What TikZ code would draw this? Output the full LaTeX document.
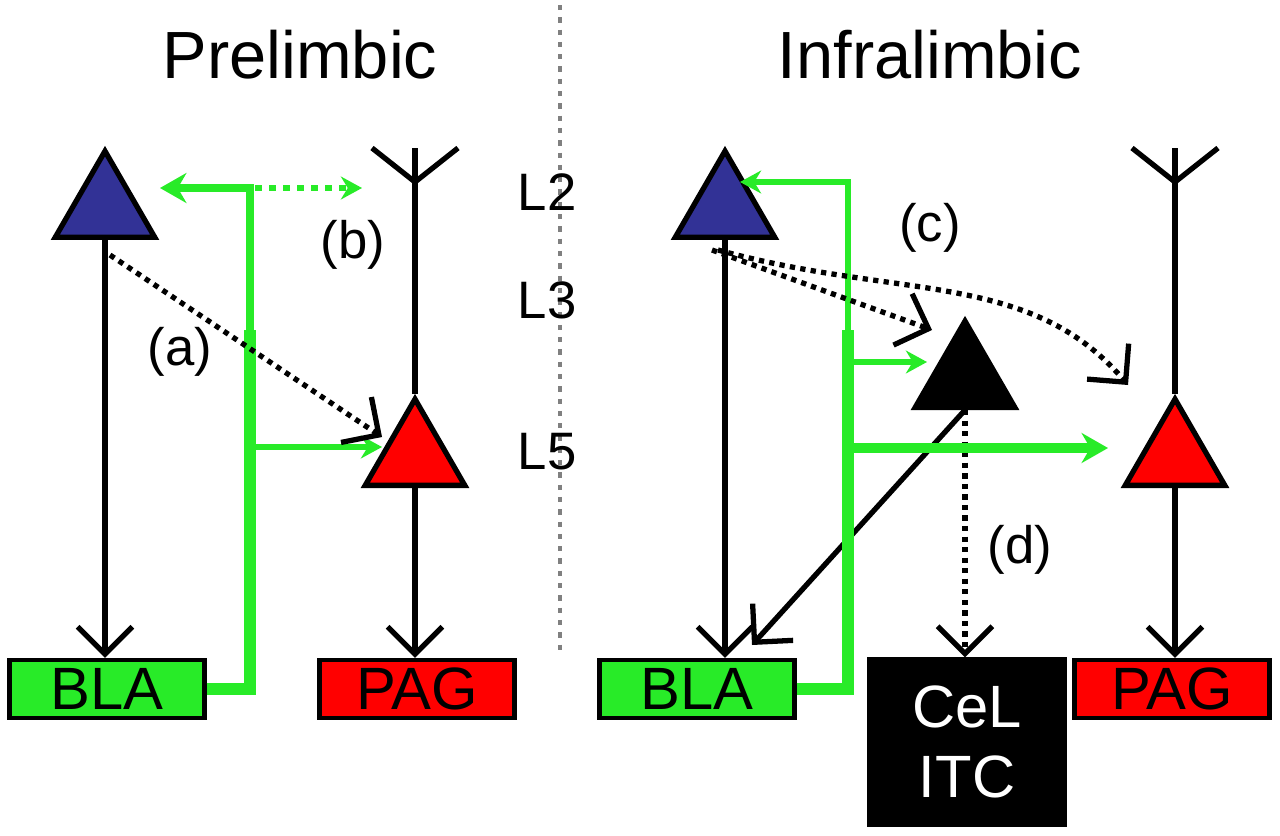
\documentclass[tikz,border=0pt]{standalone}
\usepackage{fontspec}
\setmainfont{Liberation Sans}
\usetikzlibrary{arrows.meta,shapes.geometric}
\definecolor{blagreen}{RGB}{40,235,40}
\definecolor{cellblue}{RGB}{50,50,150}
\tikzset{
  cell/.style={regular polygon, regular polygon sides=3, draw=black, line width=3pt,
    minimum size=2.3cm, inner sep=0pt},
  region/.style={draw=black, line width=2.5pt, minimum width=3.9cm, minimum height=1.16cm,
    inner sep=0pt, font=\fontsize{34}{36}\selectfont},
  axon/.style={black, line width=3pt, -{Straight Barb[angle=90:22pt]}},
  project/.style={axon, dash pattern=on 3pt off 3pt},
  feed/.style={blagreen, line width=6pt, -{Stealth[length=15pt,width=17pt]}},
  feedthin/.style={blagreen, line width=3.5pt, -{Stealth[length=12pt,width=13pt]}},
  lab/.style={font=\fontsize{30}{32}\selectfont},
  title/.style={font=\fontsize{38}{40}\selectfont}
}
\begin{document}
\begin{tikzpicture}[x=0.02cm,y=-0.02cm]
  \useasboundingbox (0,0) rectangle (1280,835);
  % Titel en scheiding
  \node[title] (pl) at (300,55) {Prelimbic};
  \node[title] (il) at (930,55) {Infralimbic};
  \draw[gray, line width=2.5pt, dash pattern=on 3pt off 4pt] (560,5) -- (560,650);
  \node[lab] (l2) at (547,192) {L2};
  \node[lab] (l3) at (547,300) {L3};
  \node[lab] (l5) at (547,452) {L5};
  % Prelimbic
  \node[cell, fill=cellblue, anchor=south] (bl) at (105,240) {};
  \node[cell, fill=red, anchor=south] (pr) at (415,488) {};
  \node[region, fill=blagreen] (blal) at (107,689) {BLA};
  \node[region, fill=red] (pagl) at (417,689) {PAG};
  \coordinate (dl) at (415,182);
  \draw[line width=3pt] (pr.north) -- (415,148);
  \draw[line width=3pt] (372,148) -- (dl) -- (458,148);
  \draw[axon] (bl.south) -- (bl.south |- blal.north);
  \draw[axon] (pr.south) -- (pr.south |- pagl.north);
  \draw[blagreen, line width=7pt] (blal.east) -- (250,689) -- (250,330);
  \draw[feed, line width=5pt] (250,330) |- (160,188);
  \draw[feedthin] (250,447) -- (382,447);
  \draw[feedthin, dash pattern=on 4pt off 4pt] (255,188) -- (362,188);
  \draw[project] (110,255) -- (382,437);
  \node[lab] (a) at (180,352) {(a)};
  \node[lab] (b) at (353,245) {(b)};
  % Infralimbic
  \node[cell, fill=cellblue, anchor=south] (br) at (725,240) {};
  \node[cell, fill=black, anchor=south] (itn) at (965,410) {};
  \node[cell, fill=red, anchor=south] (prr) at (1175,488) {};
  \node[region, fill=blagreen] (blar) at (697,689) {BLA};
  \node[region, fill=black, text=white, minimum height=3.3cm, align=center,
    font=\fontsize{34}{40}\selectfont] (cel) at (967,742) {CeL\\ITC};
  \node[region, fill=red] (pagr) at (1172,689) {PAG};
  \coordinate (dr) at (1175,182);
  \draw[line width=3pt] (prr.north) -- (1175,148);
  \draw[line width=3pt] (1132,148) -- (dr) -- (1218,148);
  \draw[axon] (br.south) -- (br.south |- blar.north);
  \draw[axon] (prr.south) -- (prr.south |- pagr.north);
  \draw[axon] (itn.south) -- (752,645);
  \draw[project] (itn.south) -- (itn.south |- cel.north);
  \draw[blagreen, line width=7pt] (blar.east) -- (848,689) -- (848,330);
  \draw[feedthin] (848,330) |- (740,182);
  \draw[feedthin] (848,362) -- (927,362);
  \draw[feed] (848,448) -- (1108,448);
  \draw[project] (712,250) -- (932,330);
  \draw[project] (718,250) .. controls (900,300) and (1030,270) .. (1128,385);
  \node[lab] (c) at (930,228) {(c)};
  \node[lab] (d) at (1020,550) {(d)};
\end{tikzpicture}
\end{document}
